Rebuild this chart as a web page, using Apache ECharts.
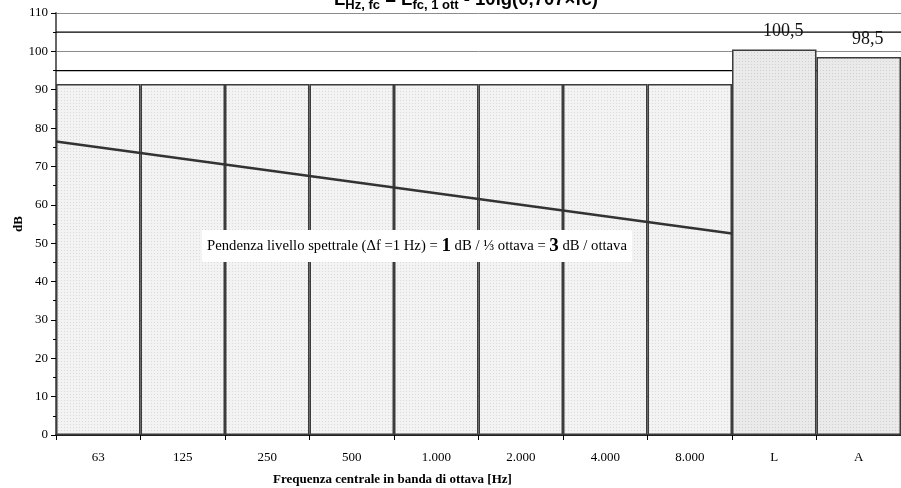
<!DOCTYPE html>
<html>
<head>
<meta charset="utf-8">
<script src="https://cdn.jsdelivr.net/npm/echarts@6/dist/echarts.min.js"></script>
<style>
  html, body { margin: 0; padding: 0; background: #fff; }
  #chart { width: 901px; height: 488px; }
</style>
</head>
<body>
<div id="chart"></div>
<script>
// data
const categories = ["63", "125", "250", "500", "1.000", "2.000", "4.000", "8.000", "L", "A"];
const bandLevels = [91.5, 91.5, 91.5, 91.5, 91.5, 91.5, 91.5, 91.5, 100.5, 98.5];
const slopeX = [0, 8];          // band edges, in category units
const slopeY = [76.5, 52.5];    // dB per Hz at those edges
const refLevels = [95, 105];    // the two thin black lines

const serif = "Liberation Serif";

function dotPattern(bg, dot) {
  const c = document.createElement("canvas");
  c.width = 3; c.height = 3;
  const ctx = c.getContext("2d");
  ctx.fillStyle = bg;
  ctx.fillRect(0, 0, 3, 3);
  ctx.fillStyle = dot;
  ctx.fillRect(1, 1, 1, 1);
  return c;
}
const bandFill = { image: dotPattern("#f3f3f3", "#dadada"), repeat: "repeat" };
const totalFill = { image: dotPattern("#eaeaea", "#d0d0d0"), repeat: "repeat" };

const chart = echarts.init(document.getElementById("chart"));

const barData = bandLevels.map((v, i) => ({
  value: v,
  itemStyle: { color: i >= 8 ? totalFill : bandFill },
  label: { show: i >= 8 }
}));

const refSeries = refLevels.map((lv) => ({
  type: "line",
  xAxisIndex: 1,
  data: [[0, lv], [10, lv]],
  symbol: "none",
  silent: true,
  z: 1,
  lineStyle: { color: "#000", width: 1.2 }
}));

const option = {
  animation: false,
  title: {
    text: "{m|L}{s|Hz, fc}{m| = L}{s|fc, 1 ott}{m| - 10lg(0,707×fc)}",
    left: 461,
    textAlign: "center",
    top: -17,
    textStyle: {
      rich: {
        m: { fontFamily: "Liberation Sans", fontWeight: "bold", fontSize: 18.5, color: "#000", verticalAlign: "bottom", lineHeight: 21 },
        s: { fontFamily: "Liberation Sans", fontWeight: "bold", fontSize: 13, color: "#000", verticalAlign: "bottom", lineHeight: 15, padding: [0, 0, -3, 0] }
      }
    }
  },
  grid: { left: 56, right: 0, top: 13, bottom: 53, containLabel: false, outerBoundsMode: "none" },
  xAxis: [
    {
      type: "category",
      data: categories,
      boundaryGap: true,
      axisLine: { lineStyle: { color: "#000", width: 1.5 } },
      axisTick: { show: true, length: 5, lineStyle: { color: "#000" } },
      axisLabel: { fontFamily: serif, fontSize: 13, color: "#000", margin: 16 },
      name: "Frequenza centrale in banda di ottava [Hz]",
      nameLocation: "middle",
      nameGap: 38,
      nameMoveOverlap: false,
      nameTextStyle: { fontFamily: serif, fontSize: 13, fontWeight: "bold", color: "#000", padding: [0, 172, 0, 0] }
    },
    { type: "value", min: 0, max: 10, show: false }
  ],
  yAxis: {
    type: "value",
    min: 0,
    max: 110,
    interval: 10,
    name: "dB",
    nameLocation: "middle",
    nameGap: 31,
    nameMoveOverlap: false,
    nameTextStyle: { fontFamily: serif, fontSize: 13, fontWeight: "bold", color: "#000" },
    axisLine: { show: true, lineStyle: { color: "#666", width: 2 } },
    axisTick: { show: true, length: 5, lineStyle: { color: "#000" } },
    minorTick: { show: true, splitNumber: 2, length: 3, lineStyle: { color: "#000" } },
    axisLabel: { fontFamily: serif, fontSize: 13, color: "#000", margin: 8 },
    splitLine: { show: true, lineStyle: { color: "#8c8c8c", width: 1 } }
  },
  series: [
    ...refSeries,
    {
      type: "bar",
      data: barData,
      barCategoryGap: 0,
      barGap: 0,
      z: 2,
      itemStyle: { borderColor: "#3c3c3c", borderWidth: 1.5 },
      label: {
        position: "top",
        distance: 9,
        offset: [9, 0],
        fontFamily: serif,
        fontSize: 18,
        color: "#111",
        formatter: (p) => String(p.value).replace(".", ",")
      }
    },
    {
      type: "line",
      xAxisIndex: 1,
      data: slopeX.map((x, i) => [x, slopeY[i]]),
      symbol: "none",
      z: 5,
      lineStyle: { color: "#333", width: 2.5 }
    }
  ],
  graphic: [
    {
      type: "text",
      left: 202,
      top: 230,
      z: 10,
      style: {
        text: "Pendenza livello spettrale (Δf =1 Hz) = {b|1} dB / ⅓ ottava = {b|3} dB / ottava",
        fontFamily: serif,
        fontSize: 14.7,
        fill: "#000",
        backgroundColor: "#fff",
        padding: [7, 5, 6, 5],
        rich: {
          b: { fontFamily: serif, fontSize: 19, fontWeight: "bold", fill: "#000" }
        }
      }
    }
  ]
};

chart.setOption(option);
</script>
</body>
</html>
